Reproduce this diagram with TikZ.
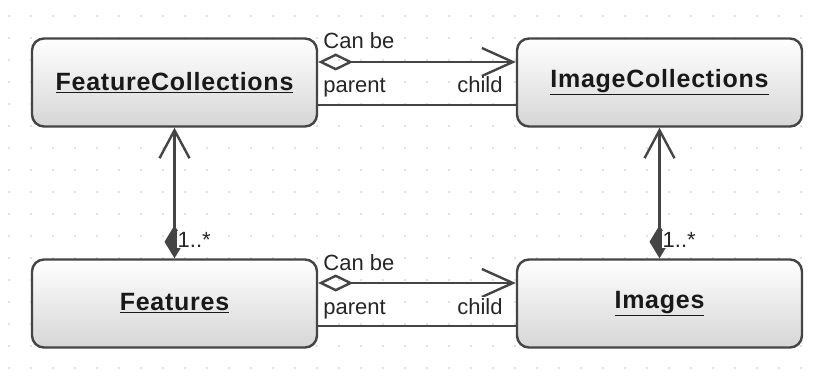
\documentclass[tikz,border=0pt]{standalone}
\usepackage{fontspec}
\setmainfont{Liberation Sans}
\newfontfamily\boxfont[LetterSpace=3]{Liberation Sans}
\usetikzlibrary{arrows.meta}

\def\lw{2.4pt}
\def\rad{12pt}

\definecolor{edgegray}{HTML}{454545}
\definecolor{boxgray}{HTML}{D6D6D6}
\definecolor{dotgray}{HTML}{C4C4C4}

\tikzset{
	classbox/.style={rectangle,rounded corners=\rad,draw=edgegray,line width=\lw,top color=white,bottom color=boxgray,minimum width=285pt,minimum height=88pt,inner sep=0,font=\boxfont\fontsize{25}{28}\selectfont\bfseries,text=black!90},
	assoc/.style={draw=edgegray,line width=\lw},
	rolelabel/.style={fill=white,inner sep=1pt,font=\fontsize{22}{26}\selectfont,text=black!85}
}

\begin{document}
\begin{tikzpicture}[x=1pt,y=-1pt]

		\useasboundingbox (0,0) rectangle (821,371);
		\fill[white] (0,0) rectangle (821,371);

		% dotted grid
		\foreach \i in {0,...,36}
			\foreach \j in {0,...,16}
				\fill[dotgray] (9+22*\i,16+22*\j) circle (0.9);

		\node (FC) at (174.5,82.5) [classbox] {\underline{FeatureCollections}};
		\node (IC) at (659.5,82.5) [classbox] {\underline{ImageCollections}};
		\node (F) at (174.5,303.5) [classbox] {\underline{Features}};
		\node (I) at (659.5,303.5) [classbox] {\underline{Images}};

		% parent/child links
		\draw[assoc,{Diamond[open,length=35pt,width=17pt]}-{Straight Barb[length=31pt,width=28pt]}] ([yshift=20.5pt]FC.east) to ([yshift=20.5pt]IC.west);
		\draw[assoc] ([yshift=-22.5pt]FC.east) to ([yshift=-22.5pt]IC.west);
		\draw[assoc,{Diamond[open,length=35pt,width=17pt]}-{Straight Barb[length=31pt,width=28pt]}] ([yshift=20.5pt]F.east) to ([yshift=20.5pt]I.west);
		\draw[assoc] ([yshift=-22.5pt]F.east) to ([yshift=-22.5pt]I.west);

		\node (canA) at ([xshift=4pt,yshift=33.5pt]FC.east) [rolelabel,anchor=base west] {Can be};
		\node (parA) at ([xshift=4pt,yshift=-10.5pt]FC.east) [rolelabel,anchor=base west] {parent};
		\node (chiA) at ([xshift=-12pt,yshift=-10.5pt]IC.west) [rolelabel,anchor=base east] {child};
		\node (canB) at ([xshift=4pt,yshift=33.5pt]F.east) [rolelabel,anchor=base west] {Can be};
		\node (parB) at ([xshift=4pt,yshift=-10.5pt]F.east) [rolelabel,anchor=base west] {parent};
		\node (chiB) at ([xshift=-12pt,yshift=-10.5pt]I.west) [rolelabel,anchor=base east] {child};

		% collections hold their members
		\draw[assoc,{Straight Barb[length=28pt,width=30pt]}-{Diamond[length=33pt,width=20pt]}] (FC) to (F);
		\draw[assoc,{Straight Barb[length=28pt,width=30pt]}-{Diamond[length=33pt,width=20pt]}] (IC) to (I);

		\node (mulA) at ([xshift=2pt,yshift=11pt]F.north) [rolelabel,anchor=base west] {1..*};
		\node (mulB) at ([xshift=2pt,yshift=11pt]I.north) [rolelabel,anchor=base west] {1..*};

	\end{tikzpicture}
\end{document}
